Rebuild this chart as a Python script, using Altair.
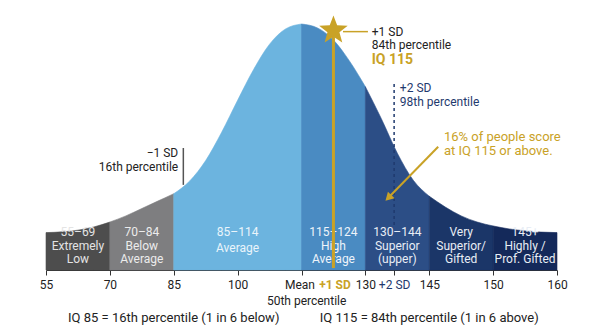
import json
import math
import altair as alt
import pandas as pd

FONT = "Roboto"
GOLD = "#c9a227"
NAVY = "#1f3a6e"
INK = "#222222"

# Bell curve: position along the IQ axis (one unit per tick step) and height (% of peak)
curve_pos = [0, 0.25, 0.5, 0.75, 1, 1.25, 1.5, 1.75, 2, 2.25, 2.5, 2.75, 3, 3.25, 3.5, 3.75,
             4, 4.25, 4.5, 4.75, 5, 5.25, 5.5, 5.75, 6, 6.25, 6.5, 6.75, 7, 7.25, 7.5, 7.75, 8]
curve_height = [15.2, 15.5, 16.2, 17.5, 19.5, 22.0, 25.0, 28.0, 31.0, 36.2, 44.5, 56.0, 69.0, 81.5, 91.8, 98.0,
                100.0, 98.4, 93.5, 85.0, 74.5, 61.5, 47.5, 36.5, 30.0, 25.6, 22.0, 19.5, 17.9, 16.7, 15.9, 15.4, 15.2]

# IQ classification bands
band_keys = ["55-69", "70-84", "85-114", "115-124", "130-144", "very", "145+"]
band_start = [0, 1, 2, 4, 5, 6, 7]
band_end = [1, 2, 4, 5, 6, 7, 8]
band_colors = ["#4d4d4d", "#7e7e80", "#6cb4df", "#4a8bc2", "#2c4e86", "#1b3668", "#14295a"]
band_text = ["55–69\nExtremely\nLow", "70–84\nBelow\nAverage", "85–114\nAverage",
             "115–124\nHigh\nAverage", "130–144\nSuperior\n(upper)", "Very\nSuperior/\nGifted",
             "145+\nHighly /\nProf. Gifted"]
band_text_color = ["#e4e4e4", "#ececec", "#eaf4fb", "#eef4fa", "#e8edf5", "#e8edf5", "#e8edf5"]

# Axis ticks
tick_pos = [0, 1, 2, 3, 4, 4.5, 5, 5.45, 6, 7, 8]
tick_text = ["55", "70", "85", "100", "Mean", "+1 SD", "130", "+2 SD", "145", "150", "160"]

# Footer notes
footer_text = ["IQ 85 = 16th percentile (1 in 6 below)", "IQ 115 = 84th percentile (1 in 6 above)"]
footer_pos = [2, 6]

xs = alt.Scale(domain=[0, 8], nice=False, zero=False)
ys = alt.Scale(domain=[0, 100], nice=False, zero=False)

label_expr = f"{json.dumps(tick_text)}[indexof({json.dumps(tick_pos)}, datum.value)]"
x_axis = alt.Axis(
    values=tick_pos, labelExpr=label_expr, title=None, grid=False,
    domainColor="#333333", domainWidth=1.2, tickColor="#333333", tickSize=5, tickWidth=1,
    labelFont=FONT, labelFontSize=12, labelPadding=4, labelOverlap=False,
    labelFlush=False, labelBound=False,
    labelColor={"condition": [{"test": "datum.value == 4.5", "value": GOLD},
                              {"test": "datum.value == 5.45", "value": NAVY}], "value": INK},
    labelFontWeight={"condition": {"test": "datum.value == 4.5", "value": "bold"}, "value": "normal"},
    labelOffset={"condition": [{"test": "datum.value == 4", "value": -2},
                               {"test": "datum.value == 4.5", "value": 1}], "value": 0},
    tickOpacity={"condition": {"test": "datum.value == 4.5", "value": 0}, "value": 1},
)


def X(field):
    return alt.X(field, scale=xs, axis=x_axis)


def Y(field):
    return alt.Y(field, scale=ys, axis=None, stack=None)


# five-pointed star symbol path (unit size)
pts = []
for i in range(10):
    r = 1.0 if i % 2 == 0 else 0.42
    a = math.pi / 2 + i * math.pi / 5
    pts.append(f"{r * math.cos(a):.3f},{-r * math.sin(a):.3f}")
STAR_PATH = "M" + "L".join(pts) + "Z"

# area rows, one group per band
rows = []
for key, s, e in zip(band_keys, band_start, band_end):
    for p, h in zip(curve_pos, curve_height):
        if s <= p <= e:
            rows.append({"pos": p, "h": h, "band": key})
area_df = pd.DataFrame(rows)

color_scale = alt.Scale(domain=band_keys, range=band_colors)

areas = alt.Chart(area_df).mark_area(interpolate="monotone", strokeWidth=0.6).encode(
    x=X("pos:Q"),
    y=Y("h:Q"),
    color=alt.Color("band:N", scale=color_scale, legend=None),
    stroke=alt.Stroke("band:N", scale=color_scale, legend=None),
    detail="band:N",
)

# band labels, one row per line
lab_rows = []
for key, s, e, txt, col in zip(band_keys, band_start, band_end, band_text, band_text_color):
    lines = txt.split("\n")
    ys_lines = [15.6, 9.9, 4.4] if len(lines) == 3 else [15.6, 8.8]
    for line, yv in zip(lines, ys_lines):
        lab_rows.append({"x": (s + e) / 2, "y": yv, "t": line, "c": col})
lab_df = pd.DataFrame(lab_rows)


def text_layer(df, **kw):
    return alt.Chart(df).mark_text(font=FONT, baseline="middle", **kw).encode(
        x=X("x:Q"), y=Y("y:Q"), text="t:N",
    )


band_labels = alt.Chart(lab_df).mark_text(font=FONT, fontSize=12, baseline="middle").encode(
    x=X("x:Q"), y=Y("y:Q"), text="t:N",
    color=alt.Color("c:N", scale=None),
)

# +1 SD marker: vertical gold line with a star on top
gold_line = alt.Chart(pd.DataFrame({"x": [4.5], "y": [0.8], "y2": [97.6]})).mark_rule(
    color=GOLD, strokeWidth=3).encode(x=X("x:Q"), y=Y("y:Q"), y2="y2:Q")
star = alt.Chart(pd.DataFrame({"x": [4.5], "y": [97.4]})).mark_point(
    shape=STAR_PATH, filled=True, size=900, color=GOLD, opacity=1).encode(x=X("x:Q"), y=Y("y:Q"))
star_leader = alt.Chart(pd.DataFrame({"x": [4.65], "x2": [5.04], "y": [96.9]})).mark_rule(
    color=GOLD, strokeWidth=1.5).encode(x=X("x:Q"), x2="x2:Q", y=Y("y:Q"))
sd1_text = text_layer(pd.DataFrame({"x": [5.1, 5.1], "y": [96.9, 91.5], "t": ["+1 SD", "84th percentile"]}),
                      fontSize=12, align="left", color=INK)
sd1_iq = text_layer(pd.DataFrame({"x": [5.1], "y": [85.2], "t": ["IQ 115"]}),
                    fontSize=14, fontWeight="bold", align="left", color=GOLD)

# +2 SD marker
sd2_line = alt.Chart(pd.DataFrame({"x": [5.45], "y": [18.3], "y2": [76.1]})).mark_rule(
    color=NAVY, strokeWidth=1.5, strokeDash=[3, 3]).encode(x=X("x:Q"), y=Y("y:Q"), y2="y2:Q")
sd2_text = text_layer(pd.DataFrame({"x": [5.54, 5.54], "y": [73.9, 68.4], "t": ["+2 SD", "98th percentile"]}),
                      fontSize=12, align="left", color=NAVY)

# -1 SD marker
sdm1_line = alt.Chart(pd.DataFrame({"x": [2.15], "y": [34.6], "y2": [49.6]})).mark_rule(
    color="#555555", strokeWidth=1.5).encode(x=X("x:Q"), y=Y("y:Q"), y2="y2:Q")
sdm1_text = text_layer(pd.DataFrame({"x": [2.07, 2.07], "y": [47.6, 42.0], "t": ["−1 SD", "16th percentile"]}),
                       fontSize=12, align="right", color=INK)

# share-of-people callout with arrow
callout = text_layer(pd.DataFrame({"x": [6.23, 6.23], "y": [54.2, 48.4],
                                   "t": ["16% of people score", "at IQ 115 or above."]}),
                     fontSize=13, align="left", color=GOLD)
arrow_shaft = alt.Chart(pd.DataFrame({"x": [6.14], "y": [50.1], "x2": [5.39], "y2": [30.2]})).mark_rule(
    color=GOLD, strokeWidth=2).encode(x=X("x:Q"), y=Y("y:Q"), x2="x2:Q", y2="y2:Q")
arrow_head = alt.Chart(pd.DataFrame({"x": [5.36], "y": [29.3]})).mark_point(
    shape="triangle-up", filled=True, size=90, angle=225, color=GOLD, opacity=1).encode(
    x=X("x:Q"), y=Y("y:Q"))

# text under the axis
mean_sub = text_layer(pd.DataFrame({"x": [4.08], "y": [-12.6], "t": ["50th percentile"]}),
                      fontSize=12, align="center", color=INK)
footer = text_layer(pd.DataFrame({"x": footer_pos, "y": [-19.5, -19.5], "t": footer_text}),
                    fontSize=13, align="center", color=INK)

chart = alt.layer(
    areas, band_labels, gold_line, star, star_leader, sd1_text, sd1_iq,
    sd2_line, sd2_text, sdm1_line, sdm1_text, callout, arrow_shaft, arrow_head,
    mean_sub, footer,
).properties(
    width=511, height=246,
    autosize=alt.AutoSizeParams(type="none"),
    padding={"left": 46, "top": 24, "right": 43, "bottom": 65},
    background="white",
).configure_view(stroke=None)

chart.save("out.html", embed_options={"renderer": "svg", "actions": False})
